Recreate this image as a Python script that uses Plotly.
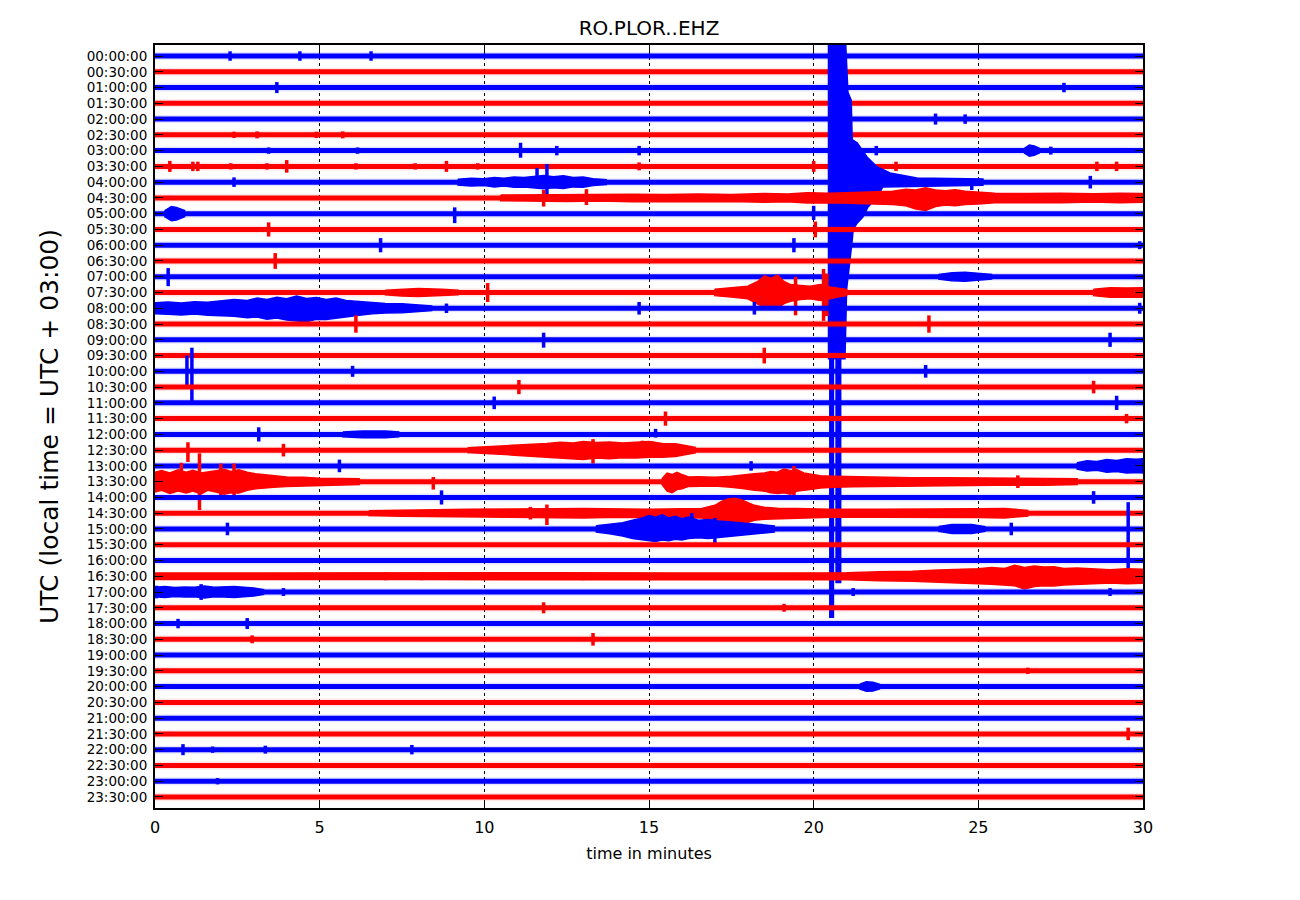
import plotly.graph_objects as go

# ---------------- data ----------------
ROW_LABELS = [f"{h:02d}:{m:02d}:00" for h in range(24) for m in (0, 30)]
ROW_COLORS = ["#0000ff", "#ff0000"]          # alternating trace colours
X_TICKS = [0, 5, 10, 15, 20, 25, 30]

# isolated short events: (row label, minute, amplitude up, amplitude down) in row units
SPIKES = [
    ("00:00:00", 2.28, .3, .3), ("00:00:00", 4.4, .3, .3), ("00:00:00", 6.56, .3, .3),
    ("01:00:00", 3.7, .35, .35), ("01:00:00", 27.6, .3, .3),
    ("02:00:00", 23.7, .35, .35), ("02:00:00", 24.6, .3, .3),
    ("02:30:00", 2.4, .2, .2), ("02:30:00", 3.1, .22, .22), ("02:30:00", 4.9, .2, .2), ("02:30:00", 5.7, .22, .22),
    ("03:00:00", 3.45, .2, .2), ("03:00:00", 6.15, .2, .2), ("03:00:00", 11.1, .5, .45), ("03:00:00", 12.2, .3, .3),
    ("03:00:00", 14.7, .3, .3), ("03:00:00", 21.3, .3, .3), ("03:00:00", 21.9, .3, .3), ("03:00:00", 27.2, .25, .25),
    ("03:30:00", 0.45, .35, .35), ("03:30:00", 1.15, .3, .3), ("03:30:00", 1.3, .3, .3), ("03:30:00", 2.3, .2, .2),
    ("03:30:00", 3.4, .2, .2), ("03:30:00", 4.0, .4, .4), ("03:30:00", 6.1, .2, .2), ("03:30:00", 7.9, .2, .2),
    ("03:30:00", 8.85, .35, .35), ("03:30:00", 9.8, .2, .2), ("03:30:00", 14.7, .25, .25), ("03:30:00", 20.0, .35, .35),
    ("03:30:00", 22.5, .3, .3), ("03:30:00", 28.6, .3, .3), ("03:30:00", 29.2, .3, .3),
    ("04:00:00", 2.4, .3, .3), ("04:00:00", 11.6, .9, .3), ("04:00:00", 11.9, 1.15, .8),
    ("04:00:00", 24.8, .2, .5), ("04:00:00", 28.4, .4, .4),
    ("04:30:00", 11.8, .5, .55), ("04:30:00", 13.1, .55, .45), ("04:30:00", 20.0, .35, .3),
    ("05:00:00", 9.1, .4, .6), ("05:00:00", 20.0, .5, .4),
    ("05:30:00", 3.45, .45, .45), ("05:30:00", 20.05, .5, .5),
    ("06:00:00", 6.85, .45, .45), ("06:00:00", 19.4, .45, .45), ("06:00:00", 29.9, .25, .25),
    ("06:30:00", 3.65, .5, .5),
    ("07:00:00", 0.4, .55, .6),
    ("07:30:00", 10.1, .6, .6), ("07:30:00", 19.45, 1.0, 1.45), ("07:30:00", 20.3, 1.5, 1.8), ("07:30:00", 20.4, 1.2, 1.5),
    ("08:00:00", 8.85, .3, .3), ("08:00:00", 14.7, .4, .4), ("08:00:00", 18.2, .4, .4), ("08:00:00", 29.9, .35, .35),
    ("08:30:00", 6.1, .55, .55), ("08:30:00", 23.5, .55, .55),
    ("09:00:00", 11.8, .45, .5), ("09:00:00", 29.0, .45, .45),
    ("09:30:00", 18.5, .5, .5),
    ("10:00:00", 0.97, 1.0, .95), ("10:00:00", 1.12, 1.5, 1.95), ("10:00:00", 6.0, .35, .35), ("10:00:00", 23.4, .4, .4),
    ("10:30:00", 11.05, .45, .45), ("10:30:00", 28.5, .4, .4),
    ("11:00:00", 10.3, .4, .4), ("11:00:00", 29.2, .45, .45),
    ("11:30:00", 15.5, .45, .45), ("11:30:00", 29.5, .3, .3),
    ("12:00:00", 3.15, .45, .45), ("12:00:00", 15.2, .35, .2),
    ("12:30:00", 1.0, .5, .75), ("12:30:00", 3.9, .4, .4), ("12:30:00", 13.3, .7, .85),
    ("12:30:00", 14.8, .6, .3), ("12:30:00", 15.1, .55, .3),
    ("13:00:00", 5.6, .4, .4), ("13:00:00", 18.1, .3, .3),
    ("13:30:00", 0.8, 1.2, .6), ("13:30:00", 1.35, 1.8, 1.8), ("13:30:00", 2.0, 1.15, .85), ("13:30:00", 2.4, 1.15, .85),
    ("13:30:00", 8.45, .3, .5), ("13:30:00", 19.4, 1.0, .85), ("13:30:00", 26.2, .4, .4),
    ("14:00:00", 8.7, .45, .45), ("14:00:00", 28.5, .4, .4),
    ("14:30:00", 11.4, .4, .4), ("14:30:00", 11.9, .55, .75),
    ("15:00:00", 2.2, .4, .4), ("15:00:00", 16.3, 1.0, .6), ("15:00:00", 17.0, .7, .9),
    ("15:00:00", 26.0, .4, .4), ("15:00:00", 29.55, 1.7, 2.7),
    ("16:30:00", 7.0, .25, .25), ("16:30:00", 8.1, .25, .25), ("16:30:00", 13.0, .25, .25),
    ("17:00:00", 0.05, .4, .4), ("17:00:00", 1.4, .5, .5), ("17:00:00", 2.5, .25, .25), ("17:00:00", 3.9, .25, .25),
    ("17:00:00", 21.2, .25, .25), ("17:00:00", 29.0, .25, .25),
    ("17:30:00", 11.8, .35, .35), ("17:30:00", 19.1, .25, .25),
    ("18:00:00", 0.7, .3, .3), ("18:00:00", 2.8, .35, .35),
    ("18:30:00", 2.95, .25, .25), ("18:30:00", 13.3, .4, .4),
    ("19:30:00", 26.5, .2, .2),
    ("21:30:00", 29.55, .4, .4),
    ("22:00:00", 0.85, .35, .35), ("22:00:00", 1.75, .2, .2), ("22:00:00", 3.35, .25, .25), ("22:00:00", 7.8, .3, .3),
    ("23:00:00", 1.9, .2, .2),
]

# envelopes of longer signals (minutes, amplitude up / down in row units)
quake_up_t = [20.45, 20.95, 21.04, 21.14, 21.17, 21.32, 21.62, 21.93, 22.32, 23.14, 25.14]
quake_up = [9.8, 9.8, 5.7, 5.2, 2.7, 2.5, 1.6, 0.96, 0.58, 0.27, 0.2]
quake_dn_t = [20.45, 20.95, 20.98, 21.0, 21.07, 21.17, 21.2, 21.32, 21.5, 21.65, 21.93, 22.1, 25.14]
quake_dn = [11.2, 11.2, 8.7, 6.8, 5.4, 3.7, 3.0, 2.6, 2.2, 1.57, 0.94, 0.3, 0.2]
quake_tail1_t = [20.49, 20.6]
quake_tail1_dn = [27.6, 27.6]
quake_tail2_t = [20.68, 20.82]
quake_tail2_dn = [25.4, 25.4]

b0300_t = [26.4, 26.55, 26.7, 26.85]
b0300_a = [.15, .35, .3, .15]
b0400_t = [9.2, 9.6, 10.0, 10.3, 10.6, 10.9, 11.2, 11.5, 11.8, 12.1, 12.4, 12.7, 13.0, 13.3, 13.7]
b0400_a = [.18, .25, .22, .3, .25, .32, .3, .38, .42, .35, .4, .3, .32, .22, .15]
b0430_t = [10.5, 11.5, 12.5, 13.5, 14.5, 15.5, 16.5, 17.5, 18.5, 19.2, 19.8, 20.5, 21.2, 21.8, 22.4,
           22.8, 23.1, 23.4, 23.7, 24.0, 24.3, 24.6, 25.0, 25.5, 26.5, 27.5, 28.5, 29.3, 30]
b0430_up = [.18, .2, .22, .2, .24, .22, .25, .22, .28, .25, .32, .3, .35, .38, .42,
            .55, .5, .65, .5, .45, .52, .42, .38, .3, .28, .3, .26, .3, .28]
b0430_dn = [.18, .2, .22, .2, .24, .22, .25, .22, .28, .25, .32, .3, .35, .38, .42,
            .5, .7, .8, .55, .45, .5, .42, .38, .3, .28, .3, .26, .3, .28]
b0500_t = [0.3, 0.5, 0.65, 0.9]
b0500_a = [.2, .45, .4, .2]
b0700_t = [23.8, 24.2, 24.6, 25.0, 25.4]
b0700_a = [.15, .25, .28, .22, .15]
b0730a_t = [7.0, 7.5, 8.0, 8.7, 9.2]
b0730a_a = [.15, .22, .25, .2, .15]
b0730b_t = [17.0, 17.5, 18.0, 18.3, 18.5, 18.7, 18.9, 19.1, 19.3, 19.6, 19.9, 20.2, 20.5, 20.8, 21.0]
b0730b_up = [.2, .28, .4, .7, 1.05, .9, 1.1, .7, .5, .45, .4, .5, .35, .25, .2]
b0730b_dn = [.2, .28, .4, .75, .95, .85, 1.0, .7, .55, .45, .4, .5, .4, .25, .2]
b0730c_t = [28.5, 29.0, 29.5, 30.0]
b0730c_a = [.2, .3, .28, .3]
b0800_t = [0, 0.4, 0.8, 1.2, 1.6, 2.0, 2.4, 2.8, 3.1, 3.4, 3.7, 4.0, 4.3, 4.6, 4.9, 5.2, 5.5, 5.8,
           6.2, 6.6, 7.0, 7.5, 8.0, 8.4]
b0800_up = [.35, .4, .33, .42, .38, .45, .55, .5, .65, .55, .7, .6, .78, .62, .68, .55, .65, .5,
            .42, .35, .3, .28, .22, .15]
b0800_dn = [.35, .38, .42, .36, .45, .48, .5, .6, .55, .7, .62, .75, .8, .85, .7, .72, .6, .55,
            .45, .35, .3, .28, .22, .15]
b1200_t = [5.7, 6.3, 7.0, 7.4]
b1200_a = [.15, .22, .22, .15]
b1230_t = [9.5, 10.2, 10.8, 11.4, 11.9, 12.3, 12.7, 13.0, 13.4, 13.8, 14.2, 14.6, 15.0, 15.4, 15.8, 16.1, 16.4]
b1230_up = [.15, .22, .28, .35, .42, .5, .45, .55, .48, .52, .45, .5, .55, .42, .4, .3, .18]
b1230_dn = [.15, .22, .3, .38, .45, .5, .55, .6, .5, .55, .48, .5, .45, .45, .4, .3, .18]
b1300_t = [28.0, 28.3, 28.6, 28.9, 29.2, 29.5, 29.8, 30.0]
b1300_a = [.2, .32, .28, .4, .35, .45, .42, .45]
b1330a_t = [0, 0.2, 0.45, 0.7, 0.95, 1.15, 1.4, 1.6, 1.85, 2.1, 2.3, 2.55, 2.8, 3.05, 3.3, 3.6,
            4.0, 4.5, 5.0, 5.6, 6.2]
b1330a_up = [.6, .7, .55, .75, .6, .72, .55, .6, .7, .78, .65, .75, .6, .5, .45, .38,
             .3, .28, .22, .2, .18]
b1330a_dn = [.65, .55, .75, .6, .72, .6, .78, .55, .65, .8, .7, .72, .55, .45, .4, .35,
             .3, .28, .22, .2, .18]
b1330b_t = [15.4, 15.55, 15.7, 15.85, 16.0, 16.2, 16.5, 17.0, 17.5, 17.9, 18.2, 18.5, 18.7, 18.9,
            19.1, 19.3, 19.5, 19.7, 19.9, 20.2, 20.6, 21.2, 22, 23, 24, 25.5, 27, 28]
b1330b_up = [.2, .55, .45, .6, .45, .3, .32, .28, .35, .45, .5, .55, .65, .6,
             .8, .7, .75, .55, .5, .38, .35, .32, .28, .25, .25, .22, .22, .18]
b1330b_dn = [.2, .6, .7, .5, .45, .3, .32, .28, .35, .45, .55, .6, .7, .75,
             .7, .8, .6, .55, .5, .4, .35, .32, .28, .25, .25, .22, .22, .18]
b1430_t = [6.5, 7.5, 8.5, 9.5, 10.5, 11.2, 12.0, 13.0, 14.0, 15.0, 16.0, 16.6, 17.0, 17.2, 17.4,
           17.6, 17.8, 18.0, 18.2, 18.5, 18.9, 19.5, 20.5, 22, 23.5, 25, 25.8, 26.5]
b1430_up = [.15, .2, .22, .25, .28, .3, .28, .3, .26, .25, .28, .3, .5, .75, .9,
            .95, .85, .7, .5, .38, .32, .3, .25, .25, .25, .28, .3, .18]
b1430_dn = [.15, .2, .22, .25, .28, .3, .28, .3, .26, .25, .28, .3, .45, .6, .75,
            .7, .72, .6, .45, .38, .32, .3, .25, .25, .25, .28, .3, .18]
b1500a_t = [13.4, 13.8, 14.2, 14.5, 14.8, 15.0, 15.2, 15.4, 15.6, 15.8, 16.0, 16.2, 16.5, 16.8,
            17.1, 17.4, 17.7, 18.0, 18.4, 18.8]
b1500a_up = [.2, .3, .4, .55, .7, .85, .75, .9, .7, .8, .65, .75, .55, .6, .5, .45, .42, .35, .28, .2]
b1500a_dn = [.2, .3, .45, .6, .7, .75, .8, .7, .75, .65, .7, .6, .55, .6, .55, .45, .4, .35, .28, .2]
b1500b_t = [23.8, 24.2, 24.8, 25.2]
b1500b_a = [.15, .28, .28, .15]
b1630_t = [0, 4, 8, 12, 16, 19, 21, 22, 23, 23.8, 24.4, 25.0, 25.4, 25.8, 26.1, 26.4, 26.7, 27.0,
           27.3, 27.6, 28.0, 28.5, 29.0, 29.5, 30]
b1630_up = [.2, .22, .2, .22, .2, .22, .22, .28, .32, .4, .42, .48, .55, .5, .7, .55, .65, .58,
            .6, .5, .52, .45, .42, .48, .45]
b1630_dn = [.2, .22, .2, .22, .2, .22, .22, .28, .32, .4, .42, .48, .5, .55, .6, .8, .65, .6,
            .62, .55, .5, .45, .42, .48, .45]
b1700_t = [0, 0.3, 0.6, 0.9, 1.2, 1.5, 1.8, 2.1, 2.4, 2.7, 3.0, 3.3]
b1700_a = [.3, .35, .28, .32, .3, .38, .3, .32, .35, .3, .25, .15]
b2000_t = [21.4, 21.6, 21.8, 22.0]
b2000_a = [.15, .3, .28, .15]

# (row label, times of upper edge, upper amplitudes, times of lower edge, lower amplitudes)
BURSTS = [
    ("03:00:00", b0300_t, b0300_a, b0300_t, b0300_a),
    ("04:00:00", b0400_t, b0400_a, b0400_t, b0400_a),
    ("04:00:00", quake_up_t, quake_up, quake_dn_t, quake_dn),
    ("04:00:00", quake_tail1_t, [0.2, 0.2], quake_tail1_t, quake_tail1_dn),
    ("04:00:00", quake_tail2_t, [0.2, 0.2], quake_tail2_t, quake_tail2_dn),
    ("04:30:00", b0430_t, b0430_up, b0430_t, b0430_dn),
    ("05:00:00", b0500_t, b0500_a, b0500_t, b0500_a),
    ("07:00:00", b0700_t, b0700_a, b0700_t, b0700_a),
    ("07:30:00", b0730a_t, b0730a_a, b0730a_t, b0730a_a),
    ("07:30:00", b0730b_t, b0730b_up, b0730b_t, b0730b_dn),
    ("07:30:00", b0730c_t, b0730c_a, b0730c_t, b0730c_a),
    ("08:00:00", b0800_t, b0800_up, b0800_t, b0800_dn),
    ("12:00:00", b1200_t, b1200_a, b1200_t, b1200_a),
    ("12:30:00", b1230_t, b1230_up, b1230_t, b1230_dn),
    ("13:00:00", b1300_t, b1300_a, b1300_t, b1300_a),
    ("13:30:00", b1330a_t, b1330a_up, b1330a_t, b1330a_dn),
    ("13:30:00", b1330b_t, b1330b_up, b1330b_t, b1330b_dn),
    ("14:30:00", b1430_t, b1430_up, b1430_t, b1430_dn),
    ("15:00:00", b1500a_t, b1500a_up, b1500a_t, b1500a_dn),
    ("15:00:00", b1500b_t, b1500b_a, b1500b_t, b1500b_a),
    ("16:30:00", b1630_t, b1630_up, b1630_t, b1630_dn),
    ("17:00:00", b1700_t, b1700_a, b1700_t, b1700_a),
    ("20:00:00", b2000_t, b2000_a, b2000_t, b2000_a),
]

TITLE = "RO.PLOR..EHZ"
X_TITLE = "time in minutes"
Y_TITLE = "UTC (local time = UTC + 03:00)"

# ---------------- figure ----------------
FONT = "DejaVu Sans"
fig = go.Figure()

def rgba(hexcol, a):
    r, g, b = int(hexcol[1:3], 16), int(hexcol[3:5], 16), int(hexcol[5:7], 16)
    return f"rgba({r},{g},{b},{a})"

for r, label in enumerate(ROW_LABELS):
    col = ROW_COLORS[r % 2]
    # faint fuzz around the trace
    fig.add_trace(go.Scatter(x=[0, 30], y=[r, r], mode="lines",
                             line=dict(color=rgba(col, 0.1), width=8),
                             hoverinfo="skip", showlegend=False))
    # dense background noise of the trace
    fig.add_trace(go.Scatter(x=[0, 30], y=[r, r], mode="lines",
                             line=dict(color=col, width=5),
                             hoverinfo="skip", showlegend=False))
    # longer signals
    bx, by = [], []
    for (lab, tu, au, td, ad) in BURSTS:
        if lab != label:
            continue
        bx += list(tu) + list(td)[::-1] + [tu[0], None]
        by += [r - a for a in au] + [r + a for a in ad][::-1] + [r - au[0], None]
    if bx:
        fig.add_trace(go.Scatter(x=bx, y=by, mode="lines", fill="toself",
                                 fillcolor=col, line=dict(color=col, width=1.5),
                                 hoverinfo="skip", showlegend=False))
    # short events
    sx, sy = [], []
    for (lab, t, up, dn) in SPIKES:
        if lab != label:
            continue
        sx += [t, t, None]
        sy += [r - up, r + dn, None]
    if sx:
        fig.add_trace(go.Scatter(x=sx, y=sy, mode="lines",
                                 line=dict(color=col, width=3.5),
                                 hoverinfo="skip", showlegend=False))

fig.update_layout(
    width=1300, height=900,
    margin=dict(l=155, r=157, t=45, b=92),
    paper_bgcolor="white", plot_bgcolor="white",
    font=dict(family=FONT, color="black"),
    title=dict(text=TITLE, x=0.5, xref="paper", xanchor="center",
               y=1 - 28 / 900, yref="container", yanchor="middle",
               font=dict(size=20, family=FONT, color="black")),
    showlegend=False,
)
fig.update_xaxes(
    range=[0, 30], tickvals=X_TICKS, ticktext=[str(v) for v in X_TICKS],
    showgrid=True, gridcolor="black", griddash="dot", gridwidth=1,
    showline=True, linecolor="black", linewidth=2, mirror="ticks",
    ticks="inside", ticklen=8, tickcolor="black", tickwidth=1,
    tickfont=dict(size=16, family=FONT), ticklabelstandoff=4, zeroline=False,
    title=dict(text=X_TITLE, font=dict(size=16, family=FONT), standoff=12),
)
fig.update_yaxes(
    range=[len(ROW_LABELS) - 0.3, -0.7],
    tickvals=list(range(len(ROW_LABELS))), ticktext=ROW_LABELS,
    showgrid=False, zeroline=False,
    showline=True, linecolor="black", linewidth=2, mirror="ticks",
    ticks="inside", ticklen=8, tickcolor="black", tickwidth=1,
    tickfont=dict(size=13.5, family=FONT), ticklabelstandoff=3,
    title=dict(text=Y_TITLE, font=dict(size=25, family=FONT), standoff=21),
)

fig.write_html("out.html")
